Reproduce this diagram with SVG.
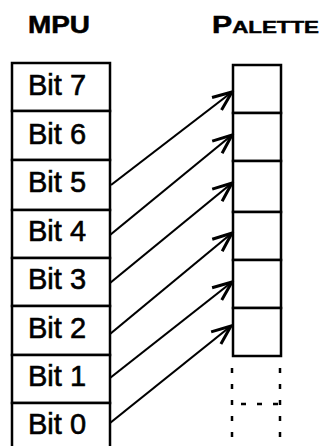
<svg xmlns="http://www.w3.org/2000/svg" width="322" height="446" viewBox="0 0 322 446">
<style>
.box{fill:#fff;stroke:#000;stroke-width:2.5}
.lbl{font-family:"Liberation Sans",Arial,sans-serif;font-size:29px;fill:#000;stroke:#000;stroke-width:0.6}
.ttl{font-family:"Liberation Sans",Arial,sans-serif;font-weight:bold;fill:#000;stroke:#000;stroke-width:0.5}
.conn{stroke:#000;stroke-width:2.2;fill:none;marker-end:url(#ah)}
.dash{stroke:#000;stroke-width:2.5;fill:none;stroke-dasharray:5 11}
</style>
<defs>
<marker id="ah" markerUnits="userSpaceOnUse" markerWidth="24" markerHeight="24" viewBox="-18 -9 20 18" refX="0" refY="0" orient="auto">
<path d="M-16,-6.5 L0,0 L-16,6.5" fill="none" stroke="#000" stroke-width="2.5"/>
</marker>
</defs>
<rect width="322" height="446" fill="#fff"/>
<g id="title-mpu"><text class="ttl" x="28" y="33" font-size="23" textLength="62" lengthAdjust="spacingAndGlyphs">MPU</text></g>
<g id="title-palette"><text class="ttl" x="212" y="33" textLength="107" lengthAdjust="spacingAndGlyphs"><tspan font-size="23">P</tspan><tspan font-size="17">ALETTE</tspan></text></g>
<g id="mpu">
<g id="bit7"><rect class="box" x="12" y="63" width="98" height="48"/><text class="lbl" x="28" y="95">Bit 7</text></g>
<g id="bit6"><rect class="box" x="12" y="111" width="98" height="49"/><text class="lbl" x="28" y="144">Bit 6</text></g>
<g id="bit5"><rect class="box" x="12" y="160" width="98" height="50"/><text class="lbl" x="28" y="192">Bit 5</text></g>
<g id="bit4"><rect class="box" x="12" y="210" width="98" height="48"/><text class="lbl" x="28" y="241">Bit 4</text></g>
<g id="bit3"><rect class="box" x="12" y="258" width="98" height="48"/><text class="lbl" x="28" y="289">Bit 3</text></g>
<g id="bit2"><rect class="box" x="12" y="306" width="98" height="49"/><text class="lbl" x="28" y="338">Bit 2</text></g>
<g id="bit1"><rect class="box" x="12" y="355" width="98" height="48"/><text class="lbl" x="28" y="386">Bit 1</text></g>
<g id="bit0"><rect class="box" x="12" y="403" width="98" height="50"/><text class="lbl" x="28" y="434">Bit 0</text></g>
</g>
<g id="palette">
<g id="pal0"><rect class="box" x="233" y="65" width="48" height="48"/></g>
<g id="pal1"><rect class="box" x="233" y="113" width="48" height="48"/></g>
<g id="pal2"><rect class="box" x="233" y="161" width="48" height="51"/></g>
<g id="pal3"><rect class="box" x="233" y="212" width="48" height="48"/></g>
<g id="pal4"><rect class="box" x="233" y="260" width="48" height="48"/></g>
<g id="pal5"><rect class="box" x="233" y="308" width="48" height="48"/></g>
<g id="pal-more">
<line class="dash" x1="232" y1="368" x2="232" y2="452"/>
<line class="dash" x1="280" y1="368" x2="280" y2="452"/>
<line class="dash" x1="232" y1="404" x2="280" y2="404" stroke-dasharray="4 10" stroke-dashoffset="-9"/>
</g>
</g>
<g id="connectors">
<line class="conn" x1="111" y1="185" x2="232" y2="92"/>
<line class="conn" x1="110" y1="235" x2="232" y2="135"/>
<line class="conn" x1="110" y1="283" x2="232" y2="183"/>
<line class="conn" x1="110" y1="334" x2="232" y2="233"/>
<line class="conn" x1="110" y1="378" x2="232" y2="282"/>
<line class="conn" x1="110" y1="423" x2="231" y2="326"/>
</g>
</svg>
